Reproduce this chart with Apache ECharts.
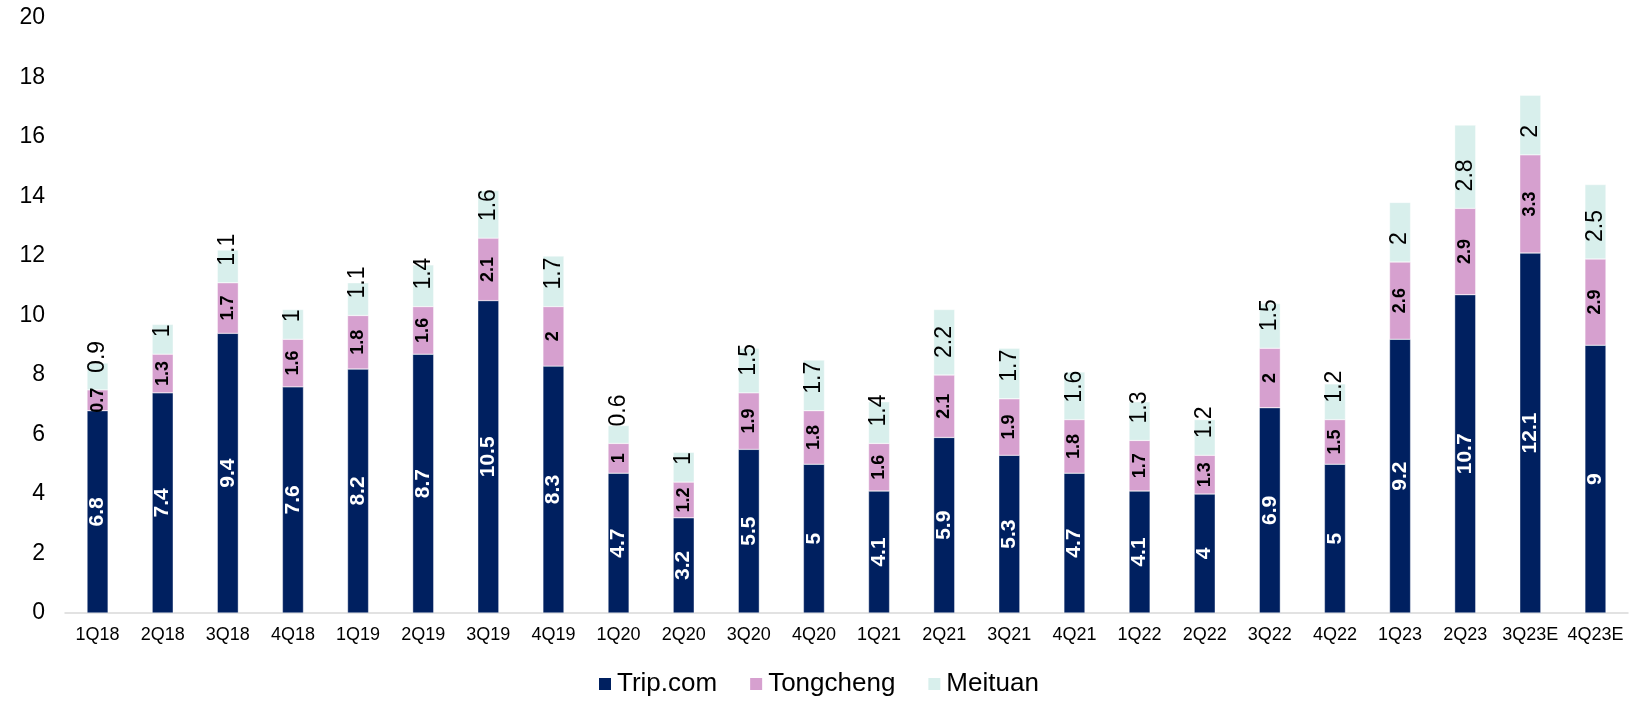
<!DOCTYPE html>
<html>
<head>
<meta charset="utf-8">
<script src="https://cdn.jsdelivr.net/npm/echarts@6/dist/echarts.min.js"></script>
<style>
html,body{margin:0;padding:0;background:#fff;}
#chart{width:1650px;height:701px;}
</style>
</head>
<body>
<div id="chart"></div>
<script>
const categories = ['1Q18','2Q18','3Q18','4Q18','1Q19','2Q19','3Q19','4Q19','1Q20','2Q20','3Q20','4Q20','1Q21','2Q21','3Q21','4Q21','1Q22','2Q22','3Q22','4Q22','1Q23','2Q23','3Q23E','4Q23E'];
const tripcom   = [6.8,7.4,9.4,7.6,8.2,8.7,10.5,8.3,4.7,3.2,5.5,5,4.1,5.9,5.3,4.7,4.1,4,6.9,5,9.2,10.7,12.1,9];
const tongcheng = [0.7,1.3,1.7,1.6,1.8,1.6,2.1,2,1,1.2,1.9,1.8,1.6,2.1,1.9,1.8,1.7,1.3,2,1.5,2.6,2.9,3.3,2.9];
const meituan   = [0.9,1,1.1,1,1.1,1.4,1.6,1.7,0.6,1,1.5,1.7,1.4,2.2,1.7,1.6,1.3,1.2,1.5,1.2,2,2.8,2,2.5];
const yTicks = [0,2,4,6,8,10,12,14,16,18,20];

const FONT = '"Liberation Sans", Arial, sans-serif';
const chart = echarts.init(document.getElementById('chart'), null, {renderer:'canvas'});
chart.setOption({
  animation:false,
  backgroundColor:'#ffffff',
  textStyle:{fontFamily:FONT},
  grid:{left:65,right:22,top:18,bottom:88,containLabel:false},
  legend:{
    data:['Trip.com','Tongcheng','Meituan'],
    top:666,left:592,
    icon:'rect',itemWidth:14,itemHeight:14,itemGap:31,
    textStyle:{fontFamily:FONT,fontSize:26,color:'#000'}
  },
  xAxis:{
    type:'category',data:categories,
    axisLine:{show:true,lineStyle:{color:'#d9d9d9',width:1.5}},
    axisTick:{show:false},
    axisLabel:{fontFamily:FONT,fontSize:18,color:'#000',margin:13,interval:0}
  },
  yAxis:{
    type:'value',min:yTicks[0],max:yTicks[yTicks.length-1],interval:2,
    axisLine:{show:false},axisTick:{show:false},splitLine:{show:false},
    axisLabel:{fontFamily:FONT,fontSize:23,color:'#000',margin:20}
  },
  series:[
    {name:'Trip.com',type:'bar',stack:'s',data:tripcom,barWidth:21,
     itemStyle:{color:'#002060',borderColor:'#ffffff',borderWidth:0.4},
     label:{show:true,position:'inside',rotate:90,align:'center',verticalAlign:'middle',
            color:'#fff',fontWeight:'bold',fontSize:21,fontFamily:FONT}},
    {name:'Tongcheng',type:'bar',stack:'s',data:tongcheng,barWidth:21,
     itemStyle:{color:'#d6a0cf',borderColor:'#ffffff',borderWidth:0.4},
     label:{show:true,position:'inside',rotate:90,align:'center',verticalAlign:'middle',
            color:'#000',fontWeight:'bold',fontSize:18,fontFamily:FONT}},
    {name:'Meituan',type:'bar',stack:'s',data:meituan,barWidth:21,
     itemStyle:{color:'#d8efec',borderColor:'#ffffff',borderWidth:0.4},
     label:{show:true,position:'insideBottom',distance:17,rotate:90,align:'left',verticalAlign:'middle',
            color:'#000',fontSize:23,fontFamily:FONT}}
  ]
});
</script>
</body>
</html>
